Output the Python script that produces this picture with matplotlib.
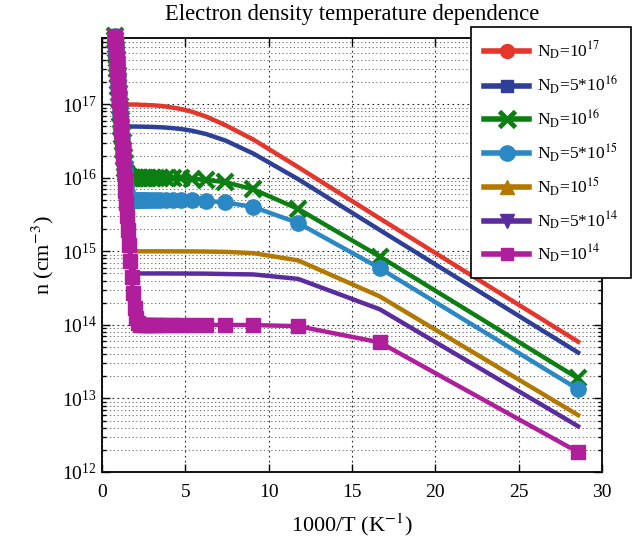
import matplotlib
matplotlib.use("Agg")
import matplotlib.pyplot as plt
from matplotlib.lines import Line2D
from matplotlib.ticker import LogLocator, FixedLocator

plt.rcParams['font.family'] = ['Liberation Serif', 'DejaVu Serif']
plt.rcParams['mathtext.fontset'] = 'stix'

# 1000/T (K^-1), T from 35 K to 1260 K
inv_T = [28.571, 16.667, 11.765, 9.091, 7.407, 6.250, 5.405, 4.762, 4.255, 3.846,
         3.509, 3.226, 2.985, 2.778, 2.597, 2.439, 2.299, 2.174, 2.062, 1.961,
         1.869, 1.786, 1.709, 1.639, 1.575, 1.515, 1.460, 1.408, 1.361, 1.316,
         1.274, 1.235, 1.198, 1.163, 1.130, 1.099, 1.070, 1.042, 1.015, 0.990,
         0.966, 0.943, 0.922, 0.901, 0.881, 0.862, 0.844, 0.826, 0.810, 0.794]

n_1e17 = [5.9e13, 2.8e15, 1.4e16, 3.3e16, 5.2e16, 6.8e16, 7.9e16, 8.6e16, 9.0e16, 9.3e16,
          9.5e16, 9.6e16, 9.7e16, 9.7e16, 9.8e16, 9.8e16, 9.8e16, 9.9e16, 9.9e16, 9.9e16,
          9.9e16, 9.9e16, 9.9e16, 9.9e16, 1.0e17, 1.0e17, 1.0e17, 1.0e17, 1.0e17, 1.01e17,
          1.03e17, 1.06e17, 1.10e17, 1.16e17, 1.25e17, 1.37e17, 1.53e17, 1.73e17, 1.97e17, 2.26e17,
          2.61e17, 3.01e17, 3.48e17, 4.02e17, 4.62e17, 5.32e17, 6.08e17, 6.95e17, 7.91e17, 8.96e17]

n_5e16 = [4.2e13, 1.95e15, 9.6e15, 2.13e16, 3.21e16, 3.93e16, 4.36e16, 4.59e16, 4.73e16, 4.81e16,
          4.86e16, 4.89e16, 4.92e16, 4.93e16, 4.94e16, 4.95e16, 4.96e16, 4.96e16, 4.97e16, 4.97e16,
          4.97e16, 4.98e16, 4.98e16, 4.99e16, 5.0e16, 5.01e16, 5.03e16, 5.09e16, 5.17e16, 5.33e16,
          5.60e16, 6.02e16, 6.64e16, 7.50e16, 8.62e16, 1.01e17, 1.18e17, 1.40e17, 1.65e17, 1.96e17,
          2.32e17, 2.72e17, 3.20e17, 3.74e17, 4.35e17, 5.05e17, 5.82e17, 6.68e17, 7.64e17, 8.70e17]

n_1e16 = [1.87e13, 8.5e14, 3.78e15, 6.96e15, 8.69e15, 9.39e15, 9.68e15, 9.81e15, 9.88e15, 9.92e15,
          9.94e15, 9.96e15, 9.97e15, 9.97e15, 9.98e15, 9.98e15, 9.98e15, 9.99e15, 9.99e15, 9.99e15,
          1.0e16, 1.0e16, 1.005e16, 1.014e16, 1.035e16, 1.081e16, 1.17e16, 1.326e16, 1.57e16, 1.921e16,
          2.397e16, 3.03e16, 3.84e16, 4.86e16, 6.11e16, 7.66e16, 9.50e16, 1.17e17, 1.43e17, 1.74e17,
          2.10e17, 2.51e17, 2.99e17, 3.53e17, 4.14e17, 4.84e17, 5.61e17, 6.48e17, 7.44e17, 8.50e17]

n_5e15 = [1.33e13, 5.9e14, 2.43e15, 4.0e15, 4.63e15, 4.84e15, 4.92e15, 4.95e15, 4.97e15, 4.98e15,
          4.99e15, 4.99e15, 4.99e15, 5.0e15, 5.0e15, 5.0e15, 5.0e15, 5.0e15, 5.0e15, 5.0e15,
          5.01e15, 5.03e15, 5.10e15, 5.26e15, 5.63e15, 6.37e15, 7.61e15, 9.54e15, 1.23e16, 1.60e16,
          2.10e16, 2.74e16, 3.56e16, 4.59e16, 5.85e16, 7.39e16, 9.24e16, 1.145e17, 1.405e17, 1.715e17,
          2.075e17, 2.485e17, 2.965e17, 3.505e17, 4.115e17, 4.815e17, 5.585e17, 6.455e17, 7.415e17, 8.475e17]

n_1e15 = [5.92e12, 2.44e14, 7.53e14, 9.44e14, 9.83e14, 9.93e14, 9.97e14, 9.98e14, 9.99e14, 9.99e14,
          1.0e15, 1.0e15, 1.0e15, 1.0e15, 1.0e15, 1.0e15, 1.0e15, 1.0e15, 1.003e15, 1.012e15,
          1.044e15, 1.138e15, 1.357e15, 1.772e15, 2.455e15, 3.49e15, 4.99e15, 7.10e15, 9.97e15, 1.38e16,
          1.88e16, 2.53e16, 3.35e16, 4.38e16, 5.64e16, 7.19e16, 9.04e16, 1.125e17, 1.385e17, 1.695e17,
          2.055e17, 2.465e17, 2.945e17, 3.485e17, 4.095e17, 4.795e17, 5.565e17, 6.435e17, 7.395e17, 8.455e17]

n_5e14 = [4.18e12, 1.63e14, 4.22e14, 4.85e14, 4.91e14, 4.97e14, 4.98e14, 4.99e14, 4.99e14, 5.0e14,
          5.0e14, 5.0e14, 5.0e14, 5.0e14, 5.0e14, 5.0e14, 5.0e14, 5.01e14, 5.06e14, 5.24e14,
          5.80e14, 7.19e14, 9.90e14, 1.446e15, 2.16e15, 3.21e15, 4.72e15, 6.83e15, 9.71e15, 1.355e16,
          1.855e16, 2.505e16, 3.325e16, 4.355e16, 5.615e16, 7.165e16, 9.015e16, 1.1225e17, 1.3825e17, 1.6925e17,
          2.0525e17, 2.4625e17, 2.9425e17, 3.4825e17, 4.0925e17, 4.7925e17, 5.5625e17, 6.4325e17, 7.3925e17, 8.4525e17]

n_1e14 = [1.86e12, 5.78e13, 9.6e13, 9.94e13, 9.98e13, 9.99e13, 1.0e14, 1.0e14, 1.0e14, 1.0e14,
          1.0e14, 1.0e14, 1.0e14, 1.0e14, 1.0e14, 1.001e14, 1.009e14, 1.053e14, 1.229e14, 1.717e14,
          2.707e14, 4.50e14, 7.48e14, 1.22e15, 1.94e15, 3.00e15, 4.51e15, 6.63e15, 9.51e15, 1.335e16,
          1.835e16, 2.485e16, 3.305e16, 4.335e16, 5.595e16, 7.145e16, 8.995e16, 1.1205e17, 1.3805e17, 1.6905e17,
          2.0505e17, 2.4605e17, 2.9405e17, 3.4805e17, 4.0905e17, 4.7905e17, 5.5605e17, 6.4305e17, 7.3905e17, 8.4505e17]

labels = [r'N$_\mathrm{D}$=10$^{17}$', r'N$_\mathrm{D}$=5*10$^{16}$', r'N$_\mathrm{D}$=10$^{16}$',
          r'N$_\mathrm{D}$=5*10$^{15}$', r'N$_\mathrm{D}$=10$^{15}$', r'N$_\mathrm{D}$=5*10$^{14}$',
          r'N$_\mathrm{D}$=10$^{14}$']
series = [n_1e17, n_5e16, n_1e16, n_5e15, n_1e15, n_5e14, n_1e14]
colors = ['#E6352A', '#2E3F97', '#0C7F12', '#2A88C4', '#B27800', '#5B2C9D', '#B01E9C']
markers = ['o', 's', 'x', 'o', '^', 'v', 's']
show_marker = [False, False, True, True, False, False, True]
plot_ms = [0, 0, 11, 11, 0, 0, 10]
leg_ms = [10, 9, 11, 11, 10, 10, 9]

fig = plt.figure(figsize=(6.37, 5.40), dpi=100)
ax = fig.add_axes([0.160, 0.126, 0.785, 0.804])

for vals, c, m, sm, ms in zip(series, colors, markers, show_marker, plot_ms):
    if sm:
        ax.plot(inv_T, vals, color=c, lw=3.2, marker=m, ms=ms,
                mew=3.0 if m == 'x' else 1.0, clip_on=False, zorder=3)
    else:
        ax.plot(inv_T, vals, color=c, lw=3.2, clip_on=False, zorder=3)

ax.set_yscale('log')
ax.set_xlim(0, 30)
ax.set_ylim(1e12, 8e17)
ax.xaxis.set_major_locator(FixedLocator([0, 5, 10, 15, 20, 25, 30]))
ax.yaxis.set_major_locator(LogLocator(base=10, numticks=10))
ax.yaxis.set_minor_locator(LogLocator(base=10, subs=range(2, 10), numticks=20))

ax.grid(True, which='major', axis='both', linestyle=(0, (1.5, 3)), color='#222222', lw=0.8)
ax.grid(True, which='minor', axis='y', linestyle=(0, (1.5, 3)), color='#555555', lw=0.6)
ax.set_axisbelow(True)

ax.tick_params(which='both', direction='in', top=True, right=True, labelsize=14, width=1.0)
ax.tick_params(which='major', length=6)
ax.tick_params(which='minor', length=3)
ax.tick_params(axis='x', which='major', pad=9)
for sp in ax.spines.values():
    sp.set_linewidth(1.3)

ax.set_title('Electron density temperature dependence', fontsize=16.3, pad=13)
ax.set_xlabel(r'1000/T (K$^{-1}$)', fontsize=16, labelpad=7)
ax.set_ylabel(r'n (cm$^{-3}$)', fontsize=16)

handles = [Line2D([], [], color=c, lw=4, marker=m, ms=ms, mew=3.5 if m == 'x' else 1.0)
           for c, m, ms in zip(colors, markers, leg_ms)]
leg = fig.legend(handles, labels, loc='upper right', bbox_to_anchor=(0.9906, 0.95),
                 borderaxespad=0, fontsize=12.5, handlelength=2.6, labelspacing=0.66,
                 borderpad=0.75, handletextpad=0.45, framealpha=1, fancybox=False,
                 edgecolor='black')
leg.get_frame().set_linewidth(1.2)

fig.savefig('out.png', dpi=100)
